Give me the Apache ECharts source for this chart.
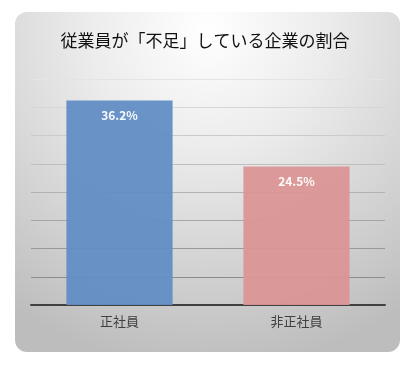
<!DOCTYPE html>
<html>
<head>
<meta charset="utf-8">
<script src="https://cdn.jsdelivr.net/npm/echarts@6/dist/echarts.min.js"></script>
<style>
html,body{margin:0;padding:0;background:#fff;}
#c{width:410px;height:370px;}
</style>
</head>
<body>
<div id="c"></div>
<script>
const titleText = '従業員が「不足」している企業の割合';
const categories = ['正社員', '非正社員'];
const values = [36.2, 24.5];
const barColors = ['#628DC5', '#DA9695'];
const yTicks = [0, 5, 10, 15, 20, 25, 30, 35, 40];

const chart = echarts.init(document.getElementById('c'), null, {renderer: 'canvas'});
const font = '"Noto Sans CJK JP", "Noto Sans", sans-serif';
chart.setOption({
  animation: false,
  backgroundColor: '#ffffff',
  graphic: [{
    type: 'rect',
    z: -10,
    silent: true,
    shape: {x: 15, y: 12, width: 385, height: 340, r: 12},
    style: {
      fill: {
        type: 'radial', x: 0.5, y: 0.05, r: 1.0,
        colorStops: [
          {offset: 0, color: '#ffffff'},
          {offset: 0.35, color: '#ececec'},
          {offset: 1, color: '#bdbdbd'}
        ]
      }
    }
  }],
  title: {
    text: titleText,
    left: 'center',
    top: 27,
    textStyle: {fontFamily: font, fontSize: 17, fontWeight: 'normal', color: '#111'}
  },
  grid: {left: 31, right: 25, top: 79, bottom: 65, containLabel: false},
  xAxis: {
    type: 'category',
    data: categories,
    axisLine: {lineStyle: {color: '#404040', width: 2}},
    axisTick: {show: false},
    axisLabel: {fontFamily: font, fontSize: 13, color: '#404040', margin: 10}
  },
  yAxis: {
    type: 'value',
    min: yTicks[0],
    max: yTicks[yTicks.length - 1],
    interval: 5,
    axisLine: {show: false},
    axisTick: {show: false},
    axisLabel: {show: false},
    splitLine: {lineStyle: {width: 1, color: ['#888', '#8c8c8c', '#999', '#a6a6a6', '#b2b2b2', '#bfbfbf', '#cbcbcb', '#d6d6d6', '#e4e4e4']}}
  },
  series: [{
    type: 'bar',
    barWidth: '60%',
    data: values.map((v, i) => ({value: v, itemStyle: {color: barColors[i], opacity: 0.95}})),
    label: {
      show: true,
      position: 'insideTop',
      distance: 9,
      formatter: p => p.value.toFixed(1) + '%',
      fontFamily: font,
      fontSize: 12,
      fontWeight: 'bold',
      color: '#ffffff'
    }
  }]
});
</script>
</body>
</html>
